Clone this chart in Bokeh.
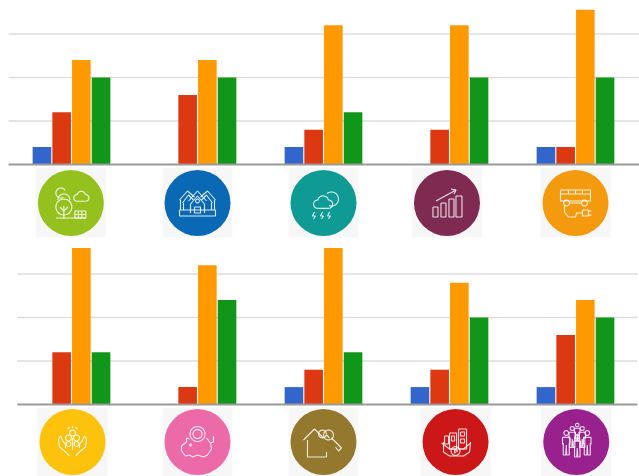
import math
from bokeh.plotting import figure
from bokeh.layouts import column
from bokeh.models import ColumnDataSource
from bokeh.embed import file_html
from bokeh.resources import INLINE

groups = [0, 1, 2, 3, 4]
series_colors = ["#3366cc", "#dc3912", "#ff9900", "#109618"]

top_blue = [1, 0, 1, 0, 1]
top_red = [3, 4, 2, 2, 1]
top_orange = [6, 6, 8, 8, 8.9]
top_green = [5, 5, 3, 5, 5]

bottom_blue = [0, 0, 1, 1, 1]
bottom_red = [3, 1, 2, 2, 4]
bottom_orange = [9, 8, 9, 7, 6]
bottom_green = [3, 6, 3, 5, 5]

grid_values = [2.5, 5, 7.5]

top_icon_colors = ["#95c11f", "#0a69b4", "#0f9a96", "#7f2a50", "#f39a0e"]
bottom_icon_colors = ["#fdc20b", "#ec6aa8", "#94782d", "#cc1719", "#99218d"]
top_icon_x = [-0.005, 1.0, 2.0, 2.98, 4.0]
bottom_icon_x = [0.008, 1.0, 2.0, 3.048, 4.006]

PX_X = 126.0   # pixels per group
PX_Y = 17.4    # pixels per value unit
WIDTH = 639


def circ(cx, cy, r, a0=0, a1=360, n=28):
    return [(cx + r * math.cos(math.radians(a0 + (a1 - a0) * i / n)),
             cy + r * math.sin(math.radians(a0 + (a1 - a0) * i / n))) for i in range(n + 1)]


def box(x0, y0, x1, y1):
    return [(x0, y0), (x1, y0), (x1, y1), (x0, y1), (x0, y0)]


def cloud(cx, cy, s=1.0):
    return [circ(cx - 4 * s, cy + 1 * s, 3.5 * s, 90, 270, 10),
            circ(cx + 0.5 * s, cy - 1.5 * s, 4.5 * s, 190, 350, 12),
            circ(cx + 5 * s, cy + 1 * s, 3.5 * s, 270, 450, 10),
            [(cx - 4 * s, cy + 4.5 * s), (cx + 5 * s, cy + 4.5 * s)]]


def person(cx, cy, h):
    w = h * 0.17
    return [circ(cx, cy - h * 0.5, h * 0.11, n=12),
            [(cx - w, cy + h * 0.02), (cx - w, cy - h * 0.3), (cx + w, cy - h * 0.3),
             (cx + w, cy + h * 0.02)],
            [(cx - w * 0.8, cy - h * 0.05), (cx - w * 0.8, cy + h * 0.5), (cx - 0.5, cy + h * 0.5),
             (cx, cy + h * 0.05), (cx + 0.5, cy + h * 0.5), (cx + w * 0.8, cy + h * 0.5),
             (cx + w * 0.8, cy - h * 0.05)]]


icon_park = [circ(-7, 4, 8), circ(-10, -10, 5, 60, 330), circ(-7, -3, 6, 180, 360), [(-7, 16), (-7, 3)],
             [(-7, 8), (-11, 4)], [(-7, 8), (-3, 4)], [(-15, 15), (15, 15)], box(4, 8, 15, 15),
             [(4, 11.5), (15, 11.5)], [(7.5, 8), (7.5, 15)], [(11, 8), (11, 15)]] + cloud(10, -6, 0.95)
icon_house = [[(-18, -3), (-10, -12), (-3, -6)], [(-15, 0), (-9, -8), (-4, -3)],
              [(18, -3), (10, -12), (3, -6)], [(15, 0), (9, -8), (4, -3)],
              [(-9, -2), (0, -12), (9, -2)], [(-7, 1), (0, -7), (7, 1)],
              [(-7, 1), (-7, 10)], [(7, 1), (7, 10)], circ(0, -2, 2, n=10), box(-3, 4, 3, 10),
              [(-17, -3), (-17, 7)], [(17, -3), (17, 7)], box(-18, 7, 18, 13), [(-14, 7), (-14, 0)],
              [(14, 7), (14, 0)]]
icon_storm = cloud(-1, 0, 1.2) + [circ(8, -4, 7, 230, 470), [(-9, 9), (-11, 13), (-8, 13), (-10, 16)],
                                  [(-1, 9), (-3, 13), (0, 13), (-2, 16)],
                                  [(6, 9), (4, 13), (7, 13), (5, 16)]]
icon_chart = [box(-14, 4, -9, 14), box(-6, 0, -1, 14), box(2, -4, 7, 14), box(9, -7, 15, 14),
              [(-11, -2), (9, -13)], [(4, -14), (9, -13), (7, -9)]]
icon_bus = [box(-15, -13, 15, -2), [(-15, -9), (15, -9)], [(-7, -13), (-7, -9)], [(0, -13), (0, -9)],
            [(7, -13), (7, -9)], circ(-9, 0, 3, n=12), circ(9, 0, 3, n=12), [(-6, 0), (6, 0)],
            [(-11, 3), (-11, 9), (-7, 14), (0, 14), (1, 10), (7, 10)],
            box(7, 7, 13, 13), [(13, 8), (16, 8)], [(13, 12), (16, 12)]]
icon_hands = [[(-3, 14), (-8, 9), (-13, 5), (-14, -3), (-12, -6), (-9, 0), (-7, 2), (-7, 6)],
              [(3, 14), (8, 9), (13, 5), (14, -3), (12, -6), (9, 0), (7, 2), (7, 6)],
              circ(-4, -4, 3, n=12), circ(4, -4, 3, n=12), circ(0, -9, 3, n=12), circ(-4, 2, 2.5, n=12),
              circ(4, 2, 2.5, n=12), [(0, -4), (0, 8)], [(-5, -13), (-3, -15)], [(5, -13), (3, -15)],
              [(0, -16), (0, -14)]]
icon_piggy = [circ(0, -8, 7.5), circ(0, -8, 4.5), circ(-7, 3, 1, n=8),
              [(-8, -3), (-11, -4), (-11, 0), (-16, 4), (-16, 9), (-12, 14), (-8, 13), (-5, 15), (0, 13),
               (6, 15), (10, 13), (14, 7), (13, 1), (9, -4)],
              [(13, 1), (16, 0), (16, -6)]]
icon_key = [[(-20, -2), (-9, -13), (0, -4)], [(-16, -2), (-16, 15), (3, 15)], [(3, 15), (3, 10)],
            circ(-1, -8, 4, n=12), circ(5, -7, 5, n=14), [(8, -4), (18, 6), (15, 9), (12, 5)],
            [(3, -7), (6, -4)]]
icon_city = [box(-6, -9, 1, 7), box(3, -13, 11, 7), box(5, -10, 9, -6), box(5, -3, 9, 1), box(-4, -6, -1, -1),
             [(-12, 0), (-12, 10), (-6, 14), (8, 14), (14, 10), (15, 0)], [(-14, 1), (-6, 7), (8, 7), (15, 1)],
             circ(0, 9, 4.5, n=16), [(-1, 7), (2, 9), (-1, 11), (-1, 7)], box(-11, -6, -7, 2)]
icon_people = (person(-10, 2, 22) + person(11, 2, 22) + person(1, 5, 20) + person(-4, -4, 19) +
               person(6, -4, 19) + person(1, -9, 16))

top_icons = [icon_park, icon_house, icon_storm, icon_chart, icon_bus]
bottom_icons = [icon_hands, icon_piggy, icon_key, icon_city, icon_people]


def make_row(height, y_start, y_end, values, icon_x, icon_colors, icons, grid_x, icon_y, square_y):
    p = figure(width=WIDTH, height=height, x_range=(-71 / PX_X, 4.508), y_range=(y_start, y_end),
               x_axis_type=None, y_axis_type=None, toolbar_location=None, output_backend="svg",
               min_border=0, outline_line_color=None, background_fill_color="white")
    p.grid.visible = False

    # light plates behind icons
    p.quad(left=[x - 35 / PX_X for x in icon_x], right=[x + 35 / PX_X for x in icon_x],
           bottom=square_y[0], top=square_y[1], fill_color="#f7f7f7", line_color=None)

    # grid and baseline
    p.segment(x0=[grid_x[0]] * 3, x1=[grid_x[1]] * 3, y0=grid_values, y1=grid_values,
              line_color="#dcdcdc", line_width=1.3)

    # bars
    pitch = 19.7 / PX_X
    for i, (vals, col) in enumerate(zip(values, series_colors)):
        src = ColumnDataSource(dict(x=[g + (i - 1.5) * pitch for g in groups], top=vals))
        p.vbar(x="x", top="top", bottom=0, width=18.6 / PX_X, source=src, fill_color=col,
               line_color=None)
    p.segment(x0=[grid_x[0]], x1=[grid_x[1]], y0=[0], y1=[0], line_color="#999999", line_width=2)

    # icon discs
    p.scatter(x=icon_x, y=[icon_y] * 5, size=66, marker="circle", fill_color=icon_colors,
              line_color=None)

    # line-art inside discs
    xs, ys = [], []
    for cx, strokes in zip(icon_x, icons):
        for s in strokes:
            xs.append([cx + a / PX_X for a, _ in s])
            ys.append([icon_y - b / PX_Y for _, b in s])
    p.multi_line(xs=xs, ys=ys, line_color="white", line_width=1.1, line_alpha=0.85)
    return p


top = make_row(238, (164 - 238) / PX_Y, 164 / PX_Y,
               [top_blue, top_red, top_orange, top_green], top_icon_x, top_icon_colors, top_icons,
               (-0.5, 4.508), (164 - 202.5) / PX_Y, ((164 - 237) / PX_Y, (164 - 167) / PX_Y))
bottom = make_row(238, (404 - 476) / PX_Y, (404 - 238) / PX_Y,
                  [bottom_blue, bottom_red, bottom_orange, bottom_green], bottom_icon_x,
                  bottom_icon_colors, bottom_icons, (-0.43, 4.49), (404 - 441.5) / PX_Y,
                  ((404 - 476) / PX_Y, (404 - 407) / PX_Y))

page = column(top, bottom, spacing=0)
open("out.html", "w").write(file_html(page, INLINE))
